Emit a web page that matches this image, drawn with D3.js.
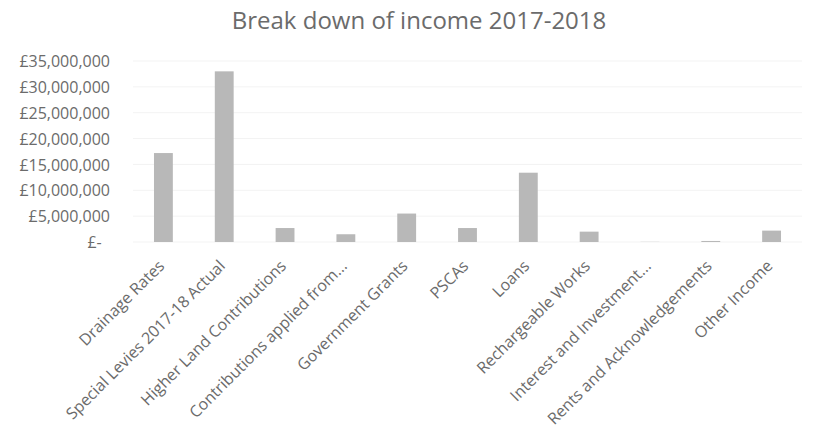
<!doctype html>
<html lang="en">
<head>
    <meta charset="UTF-8">
    <title>Break down of income 2017-2018</title>
    <script src="https://cdn.jsdelivr.net/npm/d3@7"></script>
    <style>
        body { margin: 0; background: #fff; }
        text { font-family: "Open Sans", sans-serif; fill: #6b6b6b; }
    </style>
</head>
<body>
    <script>
        var categories = ["Drainage Rates", "Special Levies 2017-18 Actual", "Higher Land Contributions",
                "Contributions applied from...", "Government Grants", "PSCAs", "Loans",
                "Rechargeable Works", "Interest and Investment...", "Rents and Acknowledgements", "Other Income"],
            values = [17200000, 33000000, 2700000, 1500000, 5500000, 2700000, 13400000, 2000000, 30000, 200000, 2200000],
            yTicks = [0, 5000000, 10000000, 15000000, 20000000, 25000000, 30000000, 35000000];

        var width = 814,
            height = 434,
            margin = {top: 61, right: 12, bottom: 192, left: 133};

        var svg = d3.select("body").append("svg")
            .attr("width", width)
            .attr("height", height);

        var x = d3.scaleBand()
            .domain(categories)
            .range([margin.left, width - margin.right])
            .paddingInner(0.69)
            .paddingOuter(0.345);

        var y = d3.scaleLinear()
            .domain([0, 35000000])
            .range([height - margin.bottom, margin.top]);

        var fmt = function(d){ return d === 0 ? "£-  " : "£" + d3.format(",")(d); };

        // faint gridlines
        svg.append("g")
            .selectAll("line")
            .data(yTicks)
            .enter()
            .append("line")
            .attr("x1", margin.left)
            .attr("x2", width - margin.right)
            .attr("y1", function(d){ return y(d); })
            .attr("y2", function(d){ return y(d); })
            .attr("stroke", "#f3f3f3");

        var yAxis = svg.append("g")
            .attr("transform", "translate(" + (margin.left - 23) + ",0)")
            .call(d3.axisLeft(y).tickValues(yTicks).tickFormat(fmt).tickSize(0).tickPadding(0));
        yAxis.select(".domain").remove();
        yAxis.selectAll("text")
            .style("font-size", "16px")
            .attr("fill", "#6b6b6b")
            .attr("dy", "0.35em")
            .attr("xml:space", "preserve");

        svg.selectAll("rect.bar")
            .data(values)
            .enter()
            .append("rect")
            .attr("class", "bar")
            .attr("x", function(d, i){ return x(categories[i]); })
            .attr("y", function(d){ return y(d); })
            .attr("width", x.bandwidth())
            .attr("height", function(d){ return y(0) - y(d); })
            .attr("fill", "#b8b8b8");

        var xAxis = svg.append("g")
            .attr("transform", "translate(0," + y(0) + ")")
            .call(d3.axisBottom(x).tickSize(0).tickPadding(0));
        xAxis.select(".domain").remove();
        xAxis.selectAll("text")
            .style("font-size", "16px")
            .attr("fill", "#6b6b6b")
            .style("text-anchor", "end")
            .attr("dy", null)
            .attr("y", 0)
            .attr("transform", "translate(2,25) rotate(-45)");

        svg.append("text")
            .attr("x", 419)
            .attr("y", 29)
            .style("font-size", "24px")
            .style("text-anchor", "middle")
            .attr("fill", "#6b6b6b")
            .text("Break down of income 2017-2018");
    </script>
</body>
</html>
